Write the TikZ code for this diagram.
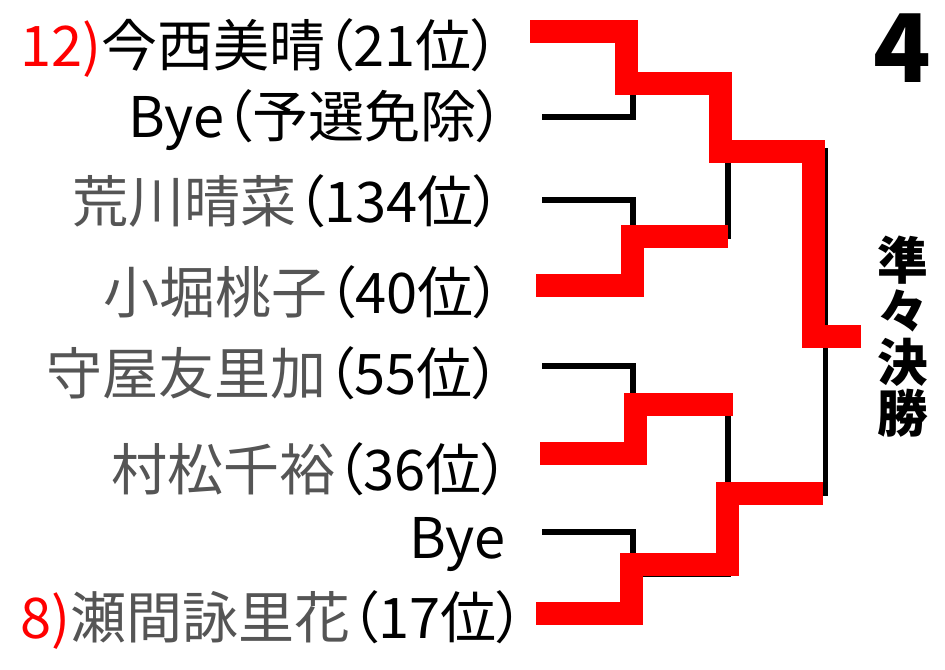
\documentclass[tikz,border=0pt]{standalone}
\usepackage{fontspec}
\setmainfont{Noto Sans CJK JP}[RawFeature=+palt]
\definecolor{seedred}{RGB}{255,0,0}
\definecolor{namegray}{RGB}{85,85,85}
\tikzset{
  winline/.style={draw=seedred, line width=17.25pt, line join=miter, line cap=butt},
  tieline/.style={draw=black, line width=4.2pt, line join=miter, line cap=butt},
  player/.style={anchor=base east, inner sep=0pt, font=\fontsize{42}{42}\selectfont},
  roundlbl/.style={inner sep=0pt, font=\bfseries\fontsize{38}{38.25}\selectfont, align=center},
}
\begin{document}
\begin{tikzpicture}[x=0.75pt,y=0.75pt,yscale=-1,xscale=1]
                \useasboundingbox (0,0) rectangle (945,669);
                \draw (500,66) node [player] (p1) {{\color{seedred}12)}今西美晴（21位）};
                \draw (505,137) node [player] (p2) {Bye（予選免除）};
                \draw (502,222) node [player] (p3) {{\color{namegray}荒川晴菜}（134位）};
                \draw (502,313) node [player] (p4) {{\color{namegray}小堀桃子}（40位）};
                \draw (501,394) node [player] (p5) {{\color{namegray}守屋友里加}（55位）};
                \draw (510,490) node [player] (p6) {{\color{namegray}村松千裕}（36位）};
                \draw (506,558) node [player] (p7) {Bye};
                \draw (525,638) node [player] (p8) {{\color{seedred}8)}{\color{namegray}瀬間詠里花}（17位）};
                \draw (902.5,82) node [anchor=base][inner sep=0pt][font=\bfseries\fontsize{71}{71}\selectfont] (blk) {4};
                \draw (903,336.5) node [roundlbl] (qf) {準\\々\\決\\勝};
                \coordinate (t1) at (542,117);
                \coordinate (t2) at (542,200);
                \coordinate (t3) at (542,366);
                \coordinate (t4) at (542,532);
                \coordinate (w1) at (530,31.5);
                \coordinate (w2) at (536,285);
                \coordinate (w3) at (540,453.5);
                \coordinate (w4) at (536,613.5);
                \draw [tieline]   (t1) -| (633,31.5) ;
                \draw [tieline]   (t2) -| (633,285) ;
                \draw [tieline]   (t3) -| (633,453.5) ;
                \draw [tieline]   (t4) -| (633,613.5) ;
                \draw [tieline]   (633,83.5) -- (728,83.5) -- (728,236) -- (633,236) ;
                \draw [tieline]   (633,404.5) -- (728,404.5) -- (728,574) -- (633,574) ;
                \draw [tieline]   (728,151) -- (825.5,151) -- (825.5,493.5) -- (728,493.5) ;
                \draw [tieline]   (825.5,336.5) -- (861,336.5) ;
                \draw [winline]   (w1) -| (626,83.5) -| (720.5,151) -| (813,336.5) -- (861,336.5) ;
                \draw [winline]   (w2) -| (632,236) -- (728,236) ;
                \draw [winline]   (w3) -| (635.5,404.5) -- (733,404.5) ;
                \draw [winline]   (w4) -| (631.5,564.5) -| (727.5,493.5) -- (823,493.5) ;
            \end{tikzpicture}
\end{document}
